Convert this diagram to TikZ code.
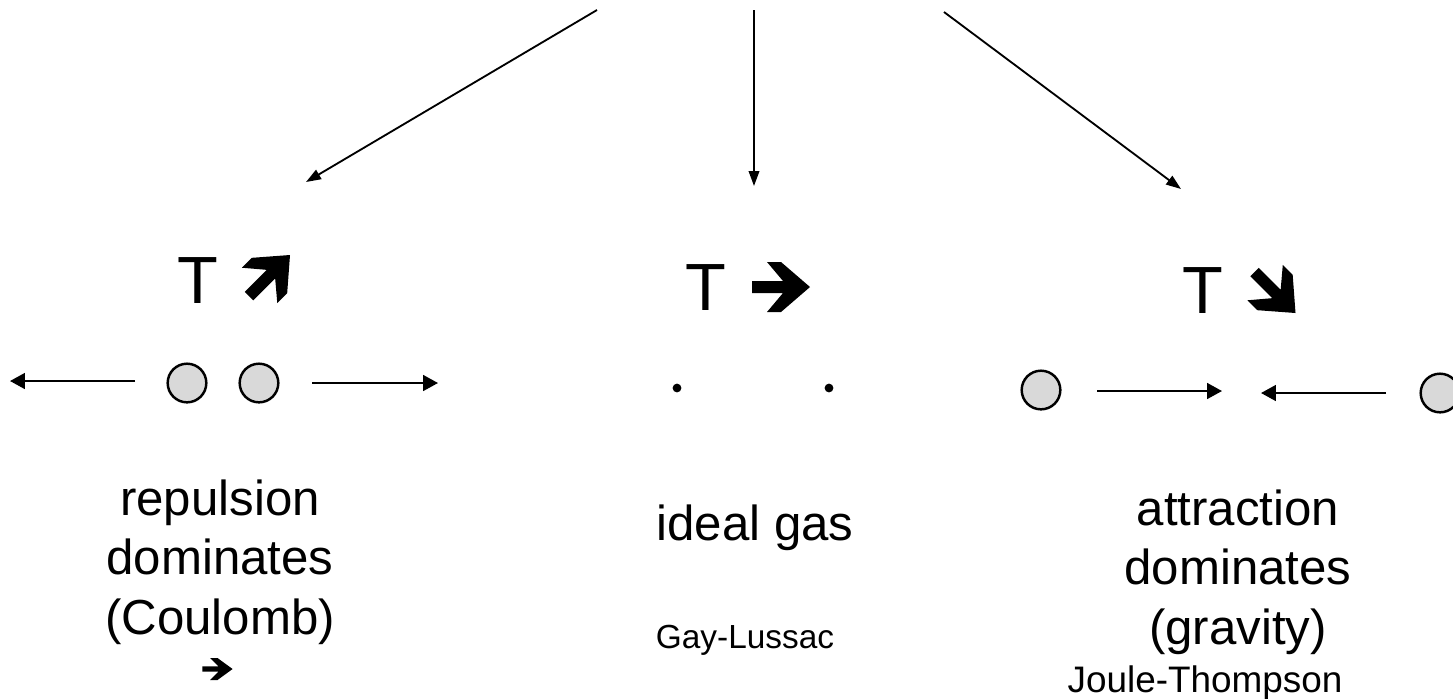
\documentclass[tikz,border=0pt]{standalone}
\usepackage{fontspec}
\setmainfont{Liberation Sans}
\usepackage{tikz}
\usetikzlibrary{arrows.meta}

\tikzset{
  boldarrow/.pic={
    \fill (-29,6) -- (2,6) -- (-14,25) -- (0,25) -- (29,0) -- (0,-25)
      -- (-14,-25) -- (2,-6) -- (-29,-6) -- cycle;
  }
}

\begin{document}
\begin{tikzpicture}[
    x=0.02cm, y=-0.02cm,
    big/.style={font=\fontsize{28}{34}\selectfont, align=center},
    small/.style={font=\fontsize{19}{23}\selectfont},
    temp/.style={font=\fontsize{38}{44}\selectfont, anchor=base, inner sep=0pt},
    particle/.style={circle, draw, line width=1.4pt, fill=gray!30, minimum size=22pt, inner sep=0pt},
    point/.style={circle, fill, minimum size=5pt, inner sep=0pt},
    branch/.style={-{Triangle[length=8.5pt,width=6pt]}, line width=1.05pt},
    force/.style={-{Triangle[length=8.5pt,width=9pt]}, line width=1.2pt}
]

\useasboundingbox (0,0) rectangle (1453,698);
\fill[white] (0,0) rectangle (1453,698);

% branches from the top
\coordinate (topL) at (597,10);
\coordinate (topM) at (754,10);
\coordinate (topR) at (944,12);
\coordinate (endL) at (306,182);
\coordinate (endM) at (754,186);
\coordinate (endR) at (1181,189);
\draw[branch] (topL) -- (endL);
\draw[branch] (topM) -- (endM);
\draw[branch] (topR) -- (endR);

% temperature
\node[temp] (tL) at (198,303) {T};
\node[temp] (tM) at (706,310) {T};
\node[temp] (tR) at (1203,313) {T};
\pic[rotate=45] at (269.5,275.5) {boldarrow};
\pic at (781,287) {boldarrow};
\pic[rotate=-45] at (1275,292.5) {boldarrow};

% repulsion
\node[particle] (p1) at (187,383) {};
\node[particle] (p2) at (259,383) {};
\coordinate (r1a) at (135,381);
\coordinate (r1b) at (10,381);
\coordinate (r2a) at (312,383);
\coordinate (r2b) at (438,383);
\draw[force] (r1a) -- (r1b);
\draw[force] (r2a) -- (r2b);

% ideal gas
\node[point] (d1) at (677,388) {};
\node[point] (d2) at (829,388) {};

% attraction
\node[particle] (p3) at (1041,390) {};
\node[particle] (p4) at (1440,393) {};
\coordinate (a1a) at (1097,391);
\coordinate (a1b) at (1222,391);
\coordinate (a2a) at (1386,393);
\coordinate (a2b) at (1261,393);
\draw[force] (a1a) -- (a1b);
\draw[force] (a2a) -- (a2b);

% labels
\node[big] (repulsion) at (220,562) {repulsion\\dominates\\(Coulomb)};
\pic[xscale=0.52, yscale=0.44] at (217.5,669) {boldarrow};
\node[big] (ideal) at (755,528) {ideal gas};
\node[small] (gay) at (745,640) {Gay-Lussac};
\node[big] (attraction) at (1238,572) {attraction\\dominates\\(gravity)};
\node[small, font=\fontsize{21}{25}\selectfont] (joule) at (1205,683) {Joule-Thompson};

\end{tikzpicture}
\end{document}
